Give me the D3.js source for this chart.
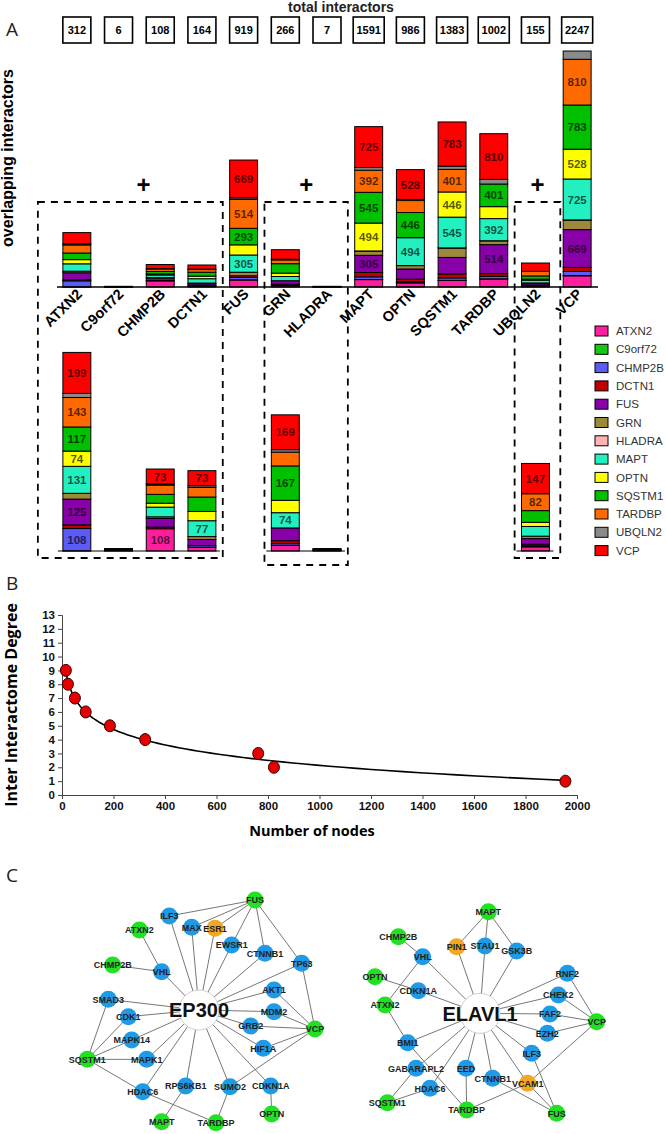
<!DOCTYPE html>
<html lang="en">
<head>
<meta charset="UTF-8">
<script src="https://cdnjs.cloudflare.com/ajax/libs/d3/7.8.5/d3.min.js"></script>
<title>Interactome overlaps</title>
<style>
  body { margin: 0; background: #fff; }
  svg { display: block; font-family: "Liberation Sans", Arial, sans-serif; }
</style>
</head>
<body>
<script>

// ---- panel A data ----
let genes = ["ATXN2", "C9orf72", "CHMP2B", "DCTN1", "FUS", "GRN", "HLADRA", "MAPT", "OPTN", "SQSTM1", "TARDBP", "UBQLN2", "VCP"];
let totals = [312, 6, 108, 164, 919, 266, 7, 1591, 986, 1383, 1002, 155, 2247];
let colours = ["#ff1f9e", "#14c814", "#5b5bf5", "#c00000", "#8800a8", "#9c8a3a", "#ffb3b3", "#22f0c0", "#ffff00", "#00c000", "#ff6a00", "#8a8a8a", "#ff0000"];

// upper triangle of overlap counts: row i = gene i against genes i+1 .. VCP
let overlapRows = [
  [1, 108, 18, 125, 28, 0, 131, 74, 117, 143, 20, 199],
  [0, 0, 2, 0, 0, 2, 1, 1, 2, 0, 3],
  [8, 42, 8, 0, 47, 19, 43, 45, 5, 73],
  [30, 14, 0, 77, 45, 70, 47, 8, 73],
  [62, 1, 305, 180, 293, 514, 27, 669],
  [0, 74, 60, 167, 67, 12, 169],
  [3, 1, 2, 2, 0, 3],
  [494, 545, 392, 47, 725],
  [446, 212, 20, 528],
  [401, 57, 783],
  [82, 810],
  [147]
];

// genes re-drawn at a larger scale underneath, and the dashed groups
let zoomedGenes = ["ATXN2", "C9orf72", "CHMP2B", "DCTN1", "GRN", "HLADRA", "UBQLN2"];
let groups = [["ATXN2", "DCTN1"], ["GRN", "HLADRA"], ["UBQLN2", "UBQLN2"]];

// which segments carry a number ("bar|segment")
let topLabels = ["FUS|MAPT", "FUS|SQSTM1", "FUS|TARDBP", "FUS|VCP",
  "MAPT|FUS", "MAPT|OPTN", "MAPT|SQSTM1", "MAPT|TARDBP", "MAPT|VCP",
  "OPTN|MAPT", "OPTN|SQSTM1", "OPTN|VCP",
  "SQSTM1|MAPT", "SQSTM1|OPTN", "SQSTM1|TARDBP", "SQSTM1|VCP",
  "TARDBP|FUS", "TARDBP|MAPT", "TARDBP|SQSTM1", "TARDBP|VCP",
  "VCP|FUS", "VCP|MAPT", "VCP|OPTN", "VCP|SQSTM1", "VCP|TARDBP"];
let lowLabels = ["ATXN2|CHMP2B", "ATXN2|FUS", "ATXN2|MAPT", "ATXN2|OPTN", "ATXN2|SQSTM1", "ATXN2|TARDBP", "ATXN2|VCP",
  "CHMP2B|ATXN2", "CHMP2B|VCP", "DCTN1|MAPT", "DCTN1|VCP",
  "GRN|MAPT", "GRN|SQSTM1", "GRN|VCP", "UBQLN2|TARDBP", "UBQLN2|VCP"];

// ---- panel B data ----
let nodeCounts = [15, 23, 50, 92, 186, 323, 762, 823, 1955];
let interDegree = [9, 8, 7, 6, 5, 4, 3, 2, 1];

// ---- panel C data (layout units) ----
let ep300Nodes = [
  ["EP300", "hub", 597, 570], ["FUS", "als", 765, 240], ["ILF3", "int", 508, 288], ["MAX", "int", 575, 322],
  ["ESR1", "other", 645, 325], ["ATXN2", "als", 418, 330], ["EWSR1", "int", 695, 375], ["CTNNB1", "int", 795, 400],
  ["TP63", "int", 905, 430], ["CHMP2B", "als", 338, 435], ["VHL", "int", 485, 455], ["AKT1", "int", 822, 510],
  ["SMAD3", "int", 325, 538], ["MDM2", "int", 822, 575], ["CDK1", "int", 385, 590], ["GRB2", "int", 752, 618],
  ["VCP", "als", 945, 627], ["MAPK14", "int", 395, 660], ["HIF1A", "int", 790, 685], ["SQSTM1", "als", 262, 718],
  ["MAPK1", "int", 440, 718], ["HDAC6", "int", 428, 815], ["RPS6KB1", "int", 557, 798], ["SUMO2", "int", 690, 800],
  ["CDKN1A", "int", 812, 798], ["MAPT", "als", 485, 905], ["TARDBP", "als", 648, 908], ["OPTN", "als", 815, 882]
];
let ep300Links = [
  ["FUS", "ILF3"], ["FUS", "MAX"], ["FUS", "ESR1"], ["FUS", "EWSR1"], ["FUS", "CTNNB1"], ["FUS", "TP63"],
  ["ATXN2", "VHL"], ["CHMP2B", "VHL"], ["TP63", "VCP"], ["AKT1", "VCP"], ["MDM2", "VCP"], ["GRB2", "VCP"],
  ["HIF1A", "VCP"], ["SUMO2", "VCP"], ["SMAD3", "SQSTM1"], ["CDK1", "SQSTM1"], ["MAPK14", "SQSTM1"],
  ["MAPK1", "SQSTM1"], ["SQSTM1", "HDAC6"], ["HDAC6", "TARDBP"], ["RPS6KB1", "MAPT"], ["SUMO2", "TARDBP"],
  ["CDKN1A", "OPTN"]
];
let elavl1Nodes = [
  ["ELAVL1", "hub", 450, 580], ["MAPT", "als", 475, 275], ["CHMP2B", "als", 205, 350], ["PIN1", "other", 380, 380],
  ["STAU1", "int", 465, 378], ["GSK3B", "int", 560, 393], ["VHL", "int", 278, 410], ["RNF2", "int", 712, 460],
  ["OPTN", "als", 135, 470], ["CDKN1A", "int", 265, 512], ["CHEK2", "int", 685, 525], ["ATXN2", "als", 165, 555],
  ["FAF2", "int", 660, 582], ["VCP", "als", 800, 605], ["EZH2", "int", 652, 640], ["BMI1", "int", 233, 668],
  ["ILF3", "int", 605, 700], ["GABARAPL2", "int", 258, 745], ["EED", "int", 408, 745], ["CTNNB1", "int", 488, 775],
  ["VCAM1", "other", 593, 790], ["HDAC6", "int", 300, 805], ["SQSTM1", "als", 172, 848], ["TARDBP", "als", 410, 870],
  ["FUS", "als", 680, 880]
];
let elavl1Links = [
  ["MAPT", "PIN1"], ["MAPT", "STAU1"], ["MAPT", "GSK3B"], ["CHMP2B", "VHL"], ["OPTN", "CDKN1A"],
  ["ATXN2", "VHL"], ["ATXN2", "BMI1"], ["VCP", "RNF2"], ["VCP", "CHEK2"], ["VCP", "FAF2"], ["VCP", "EZH2"],
  ["VCP", "VCAM1"], ["BMI1", "TARDBP"], ["GABARAPL2", "SQSTM1"], ["HDAC6", "SQSTM1"], ["EED", "TARDBP"],
  ["VCAM1", "TARDBP"], ["CTNNB1", "FUS"], ["VCAM1", "FUS"], ["ILF3", "FUS"]
];

let nodeColour = {als: "#22e022", int: "#1e9ae6", other: "#f5a623", hub: "#ffffff"};

// ---------------------------------------------------------------
let svg = d3.select("body").append("svg").attr("width", 666).attr("height", 1134);

// full symmetric matrix -> one row per bar for d3.stack
let matrix = genes.map(() => genes.map(() => 0));
overlapRows.forEach(function(row, i) {
  row.forEach(function(v, k) { let j = i + 1 + k; matrix[i][j] = v; matrix[j][i] = v; });
});
let rows = genes.map(function(g, i) {
  let o = {gene: g};
  genes.forEach(function(h, j) { o[h] = matrix[i][j]; });
  return o;
});
let series = d3.stack().keys(genes)(rows);

let x = d3.scaleBand().domain(genes).range([56, 598]).paddingInner(0.33).paddingOuter(0.165);
let yTop = d3.scaleLinear().domain([0, 4200]).range([287, 50]);
let yLow = d3.scaleLinear().domain([0, 1000]).range([551, 345]);
let colour = d3.scaleOrdinal().domain(genes).range(colours);
let bw = x.bandwidth();
let gap = x.step() - bw;

function drawStack(yScale, keep, labels) {
  let g = svg.append("g");
  series.forEach(function(s) {
    g.selectAll(null)
      .data(s.filter(d => keep.includes(d.data.gene) && d[1] > d[0]))
      .join("rect")
      .attr("x", d => x(d.data.gene))
      .attr("y", d => yScale(d[1]))
      .attr("width", bw)
      .attr("height", d => yScale(d[0]) - yScale(d[1]))
      .attr("fill", colour(s.key))
      .attr("stroke", "#000")
      .attr("stroke-width", 1);
  });
  let lab = labels.map(function(p) {
    let [bar, seg] = p.split("|");
    let d = series[genes.indexOf(seg)][genes.indexOf(bar)];
    return {bar: bar, v: d[1] - d[0], y: (yScale(d[0]) + yScale(d[1])) / 2};
  });
  g.selectAll("text").data(lab).join("text")
    .attr("x", d => x(d.bar) + bw / 2)
    .attr("y", d => d.y)
    .attr("dy", "0.36em")
    .attr("text-anchor", "middle")
    .attr("font-size", 11.5)
    .attr("font-weight", "bold")
    .attr("fill", "#000")
    .attr("fill-opacity", 0.68)
    .text(d => d.v);
}

drawStack(yTop, genes, topLabels);
drawStack(yLow, zoomedGenes, lowLabels);

// top baseline
svg.append("line").attr("x1", 57).attr("x2", 598).attr("y1", yTop(0)).attr("y2", yTop(0))
  .attr("stroke", "#000").attr("stroke-width", 1.5);

// lower baselines, one per group
groups.forEach(function(gr) {
  svg.append("line")
    .attr("x1", x(gr[0]) - 5).attr("x2", x(gr[1]) + bw + 4)
    .attr("y1", yLow(0)).attr("y2", yLow(0))
    .attr("stroke", "#000").attr("stroke-width", 1.2);
});

// dashed boxes and plus signs
groups.forEach(function(gr, i) {
  let left = i === 0 ? x(gr[0]) - 25 : x(gr[0]) - gap / 2;
  let right = x(gr[1]) + bw + gap / 2 + (i === 2 ? 4 : 0);
  let bottom = i === 1 ? 565 : 558;
  svg.append("rect").attr("x", left).attr("y", 202).attr("width", right - left).attr("height", bottom - 202)
    .attr("fill", "none").attr("stroke", "#000").attr("stroke-width", 1.8).attr("stroke-dasharray", "7,6");
  let mid = i === 0 ? (x(gr[0]) - gap / 2 + right) / 2 + 4 : (left + right) / 2;
  svg.append("text").attr("x", mid).attr("y", 193).attr("text-anchor", "middle")
    .attr("font-size", 24).attr("font-weight", "bold").text("+");
});

// rotated gene names
svg.append("g").selectAll("text").data(genes).join("text")
  .attr("transform", d => "translate(" + (x(d) + bw / 2 + 6) + ",295) rotate(-45)")
  .attr("text-anchor", "end")
  .attr("font-size", 14.5)
  .attr("font-weight", "bold")
  .text(d => d);

// total interactors boxes
svg.append("text").attr("x", 341).attr("y", 12).attr("text-anchor", "middle")
  .attr("font-size", 14).attr("font-weight", "bold").attr("fill", "#222").text("total interactors");
let boxes = svg.append("g").selectAll("g").data(genes).join("g")
  .attr("transform", d => "translate(" + (x(d) + bw / 2) + ",0)");
boxes.append("rect")
  .attr("x", (d, i) => String(totals[i]).length > 3 ? -15.5 : -14)
  .attr("width", (d, i) => String(totals[i]).length > 3 ? 31 : 28)
  .attr("y", 17).attr("height", 26)
  .attr("fill", "#fff").attr("stroke", "#000").attr("stroke-width", 1.6);
boxes.append("text").attr("y", 34).attr("text-anchor", "middle")
  .attr("font-size", 11).attr("font-weight", "bold").text((d, i) => totals[i]);

svg.append("text").attr("transform", "translate(13,158) rotate(-90)").attr("text-anchor", "middle")
  .attr("font-size", 16).attr("font-weight", "bold").text("overlapping interactors");

// legend
let legend = svg.append("g").selectAll("g").data(genes).join("g")
  .attr("transform", (d, i) => "translate(595," + (331 + i * 18.3) + ")");
legend.append("rect").attr("x", 0).attr("y", -5).attr("width", 13).attr("height", 10)
  .attr("fill", d => colour(d)).attr("stroke", "#000").attr("stroke-width", 1);
legend.append("text").attr("x", 21).attr("dy", "0.36em").attr("font-size", 11.5).attr("fill", "#333").text(d => d);

// panel letters
[["A", 36], ["B", 590], ["C", 882]].forEach(function(p) {
  svg.append("text").attr("x", 6).attr("y", p[1]).attr("font-family", "'Open Sans', sans-serif")
    .attr("font-size", 19).attr("fill", "#222").text(p[0]);
});

// ---------------- panel B ----------------
let xB = d3.scaleLinear().domain([0, 2000]).range([62, 577]);
let yB = d3.scaleLinear().domain([0, 13]).range([795, 615]);

let axB = svg.append("g");
axB.append("g").attr("transform", "translate(0,795)")
  .call(d3.axisBottom(xB).tickValues(d3.range(0, 2001, 200)).tickFormat(d3.format("d")).tickSize(4).tickPadding(3))
  .call(g => g.selectAll("text").attr("font-size", 11.5).attr("font-weight", "bold")
    .attr("font-family", "'Liberation Sans', Arial").attr("fill", "#111"));
axB.append("g").attr("transform", "translate(62,0)")
  .call(d3.axisLeft(yB).ticks(13).tickSize(4).tickPadding(3))
  .call(g => g.selectAll("text").attr("font-size", 11.5).attr("font-weight", "bold")
    .attr("font-family", "'Liberation Sans', Arial").attr("fill", "#111"));
axB.selectAll(".domain, .tick line").attr("stroke", "#444");

// logarithmic trend line fitted to the points (least squares on ln x)
let lx = nodeCounts.map(v => Math.log(v));
let mx = d3.mean(lx), my = d3.mean(interDegree);
let slope = d3.sum(lx, (v, i) => (v - mx) * (interDegree[i] - my)) / d3.sum(lx, v => (v - mx) * (v - mx));
let icpt = my - slope * mx;
let xs = d3.range(0, 101).map(t => Math.exp(lx[0] + (lx[lx.length - 1] - lx[0]) * t / 100));
svg.append("path")
  .attr("d", d3.line().x(v => xB(v)).y(v => yB(icpt + slope * Math.log(v)))(xs))
  .attr("fill", "none").attr("stroke", "#000").attr("stroke-width", 1.6);

svg.append("g").selectAll("ellipse").data(nodeCounts).join("ellipse")
  .attr("cx", d => xB(d)).attr("cy", (d, i) => yB(interDegree[i]))
  .attr("rx", 5.5).attr("ry", 6)
  .attr("fill", "#e60000").attr("stroke", "#300").attr("stroke-width", 1);

svg.append("text").attr("x", 312).attr("y", 836).attr("text-anchor", "middle")
  .attr("font-family", "'Open Sans', sans-serif").attr("font-weight", "bold").attr("font-size", 14.5)
  .text("Number of nodes");
svg.append("text").attr("transform", "translate(17,705) rotate(-90)").attr("text-anchor", "middle")
  .attr("font-family", "'Open Sans', sans-serif").attr("font-weight", "bold").attr("font-size", 16)
  .text("Inter Interactome Degree");

// ---------------- panel C ----------------
function drawNetwork(nodes, links, x0) {
  let nx = d3.scaleLinear().domain([0, 1020]).range([x0, x0 + 340]);
  let ny = d3.scaleLinear().domain([0, 942]).range([820, 1134]);
  let byName = {};
  nodes.forEach(n => byName[n[0]] = n);
  let hub = nodes.find(n => n[1] === "hub");
  let edges = nodes.filter(n => n[1] === "int" || n[1] === "other").map(n => [hub[0], n[0]]).concat(links);
  let g = svg.append("g");
  g.selectAll("line").data(edges).join("line")
    .attr("x1", e => nx(byName[e[0]][2])).attr("y1", e => ny(byName[e[0]][3]))
    .attr("x2", e => nx(byName[e[1]][2])).attr("y2", e => ny(byName[e[1]][3]))
    .attr("stroke", "#777").attr("stroke-width", 1);
  g.selectAll("circle").data(nodes).join("circle")
    .attr("cx", n => nx(n[2])).attr("cy", n => ny(n[3]))
    .attr("r", n => n[1] === "hub" ? 20 : 8.5)
    .attr("fill", n => nodeColour[n[1]])
    .attr("stroke", n => n[1] === "hub" ? "#d0d0d0" : "none");
  g.selectAll("text").data(nodes).join("text")
    .attr("x", n => nx(n[2])).attr("y", n => ny(n[3]))
    .attr("dy", "0.36em").attr("text-anchor", "middle")
    .attr("font-weight", "bold")
    .attr("font-size", n => n[1] === "hub" ? 20 : 9)
    .attr("fill", n => n[1] === "hub" ? "#111" : "#222")
    .text(n => n[0]);
}

drawNetwork(ep300Nodes, ep300Links, 0);
drawNetwork(elavl1Nodes, elavl1Links, 330);

</script>
</body>
</html>
